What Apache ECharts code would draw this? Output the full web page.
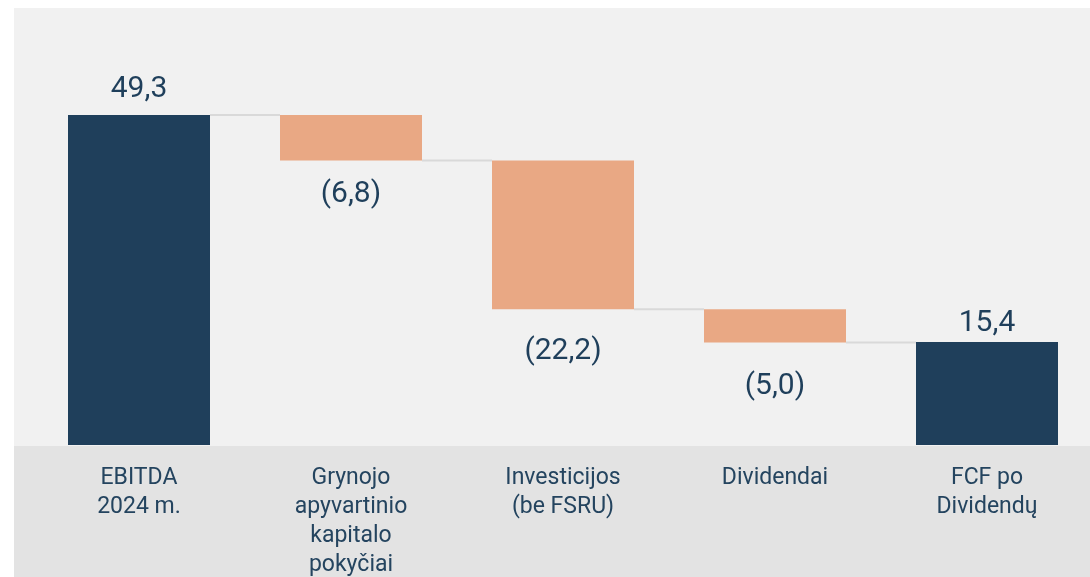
<!DOCTYPE html>
<html>
<head>
<meta charset="utf-8">
<script src="https://cdn.jsdelivr.net/npm/echarts@6/dist/echarts.min.js"></script>
<style>
  html, body { margin: 0; padding: 0; background: #fff; }
  #chart { width: 1090px; height: 577px; }
</style>
</head>
<body>
<div id="chart"></div>
<script>
// waterfall: start total, changes, end total
const categories = ['EBITDA\n2024 m.', 'Grynojo\napyvartinio\nkapitalo\npokyčiai', 'Investicijos\n(be FSRU)', 'Dividendai', 'FCF po\nDividendų']
const values = [49.3, -6.8, -22.2, -5.0, 15.4]
const isTotal = [true, false, false, false, true]

const navy = '#1f3f5b'
const salmon = '#e9a884'
// label gap to bar edge, px (reference is uneven)
const labelGap = [11, 19, 27, 29, 3]

const fmt = (v) => {
  const s = Math.abs(v).toFixed(1).replace('.', ',')
  return v < 0 ? '(' + s + ')' : s
}

// running level after each step, and invisible base under each bar
const levels = []
const base = []
let run = 0
values.forEach((v, i) => {
  if (isTotal[i]) {
    base.push(0)
    run = v
  } else {
    run = run + v
    base.push(run)
  }
  levels.push(run)
})

const barData = values.map((v, i) => ({
  value: Math.abs(v),
  itemStyle: { color: isTotal[i] ? navy : salmon },
  label: {
    position: isTotal[i] ? 'top' : 'bottom',
    distance: labelGap[i]
  }
}))

// connectors go from one bar's level to the next bar
const connectors = []
for (let i = 0; i < values.length - 1; i++) {
  connectors.push([i, isTotal[i] ? values[i] : levels[i]])
}

const chart = echarts.init(document.getElementById('chart'))
chart.setOption({
  animation: false,
  backgroundColor: '#ffffff',
  graphic: [
    { type: 'rect', z: -10, shape: { x: 14, y: 8, width: 1076, height: 438 }, style: { fill: '#f1f1f1' } },
    { type: 'rect', z: -10, shape: { x: 14, y: 446, width: 1076, height: 131 }, style: { fill: '#e3e3e3' } }
  ],
  grid: { left: 33, right: -3, top: 10, bottom: 132, outerBoundsMode: 'none', containLabel: false },
  xAxis: {
    type: 'category',
    data: categories,
    axisLine: { show: false },
    axisTick: { show: false },
    axisLabel: {
      interval: 0,
      margin: 19,
      color: '#24445f',
      fontFamily: 'Roboto',
      fontSize: 23,
      lineHeight: 29
    }
  },
  yAxis: { type: 'value', min: 0, max: 65, show: false, splitLine: { show: false } },
  series: [
    {
      type: 'bar',
      stack: 'wf',
      data: base,
      barWidth: 142,
      itemStyle: { color: 'transparent' },
      silent: true
    },
    {
      type: 'bar',
      stack: 'wf',
      data: barData,
      barWidth: 142,
      label: {
        show: true,
        color: navy,
        fontFamily: 'Roboto',
        fontSize: 30,
        formatter: (p) => fmt(values[p.dataIndex])
      }
    },
    {
      type: 'custom',
      z: 1,
      silent: true,
      data: connectors,
      renderItem: (params, api) => {
        const i = api.value(0)
        const pt = api.coord([i, api.value(1)])
        const band = api.size([1, 0])[0]
        const half = 71
        return {
          type: 'line',
          shape: { x1: pt[0] + half, y1: pt[1], x2: pt[0] + band - half, y2: pt[1] },
          style: { stroke: '#d9d9d9', lineWidth: 2 }
        }
      }
    }
  ]
})
</script>
</body>
</html>
